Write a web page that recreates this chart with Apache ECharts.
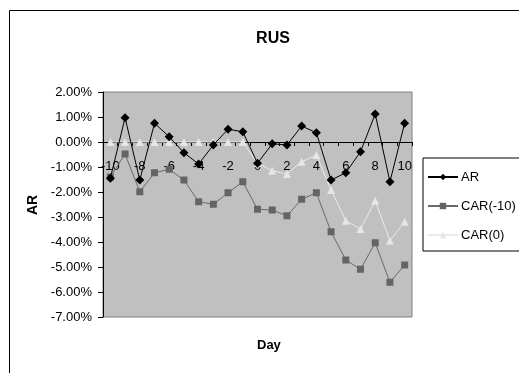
<!DOCTYPE html>
<html>
<head>
<meta charset="utf-8">
<script src="https://cdn.jsdelivr.net/npm/echarts@6/dist/echarts.min.js"></script>
<style>
  html, body { margin: 0; padding: 0; background: #ffffff; }
  #chart { width: 519px; height: 373px; }
</style>
</head>
<body>
<div id="chart"></div>
<script>
// Event days
const days = [-10, -9, -8, -7, -6, -5, -4, -3, -2, -1, 0, 1, 2, 3, 4, 5, 6, 7, 8, 9, 10];

// Abnormal returns (%)
const ar = [-1.45, 0.97, -1.52, 0.75, 0.21, -0.43, -0.88, -0.12, 0.51, 0.41,
            -0.85, -0.07, -0.12, 0.64, 0.37, -1.52, -1.23, -0.39, 1.12, -1.59, 0.75];

// Cumulative abnormal returns from day -10 (%)
const carMinus10 = [-1.40, -0.48, -1.99, -1.23, -1.09, -1.52, -2.39, -2.49, -2.03, -1.59,
                    -2.69, -2.72, -2.95, -2.29, -2.03, -3.59, -4.72, -5.09, -4.03, -5.61, -4.92];

// Cumulative abnormal returns from day 0 (%)
const carZero = [0, 0, 0, 0, 0, 0, 0, 0, 0, 0,
                 -0.85, -1.15, -1.28, -0.79, -0.52, -1.92, -3.15, -3.48, -2.35, -3.95, -3.19];

const FONT = '"Liberation Sans", Arial, sans-serif';

// value-axis range; the day axis is drawn on the 0% line
const Y_MIN = -7, Y_MAX = 2;
const GRID = { left: 103, top: 92, right: 107, bottom: 56 };
const plotHeight = 373 - GRID.top - GRID.bottom;
const zeroOffset = -plotHeight * (0 - Y_MIN) / (Y_MAX - Y_MIN);

const chart = echarts.init(document.getElementById('chart'), null, { renderer: 'canvas' });

chart.setOption({
  animation: false,
  backgroundColor: '#ffffff',
  textStyle: { fontFamily: FONT },
  title: {
    text: 'RUS',
    left: 268,
    top: 26,
    textAlign: 'center',
    textStyle: { fontFamily: FONT, fontSize: 16, fontWeight: 'bold', color: '#000' }
  },
  graphic: [
    {
      type: 'rect',
      shape: { x: 9.5, y: 10.5, width: 540, height: 400 },
      style: { fill: 'none', stroke: '#000', lineWidth: 1 },
      silent: true,
      z: -10
    },
    {
      type: 'text',
      left: 257,
      top: 339,
      style: { text: 'Day', font: 'bold 13px ' + FONT, fill: '#000', textAlign: 'center' }
    },
    {
      type: 'text',
      x: 33,
      y: 205,
      rotation: Math.PI / 2,
      style: { text: 'AR', font: 'bold 14px ' + FONT, fill: '#000', align: 'center', verticalAlign: 'middle' }
    }
  ],
  legend: {
    orient: 'vertical',
    left: 423,
    top: 158,
    padding: [11, 6, 8, 4],
    itemGap: 13,
    itemWidth: 30,
    itemHeight: 8,
    borderColor: '#000',
    borderWidth: 1,
    backgroundColor: '#fff',
    textStyle: { fontFamily: FONT, fontSize: 13, color: '#000', lineHeight: 16, padding: [0, 0, 0, -2] },
    data: ['AR', 'CAR(-10)', 'CAR(0)']
  },
  grid: {
    left: GRID.left,
    top: GRID.top,
    right: GRID.right,
    bottom: GRID.bottom,
    show: true,
    backgroundColor: '#c0c0c0',
    borderColor: '#808080',
    borderWidth: 1
  },
  xAxis: {
    type: 'category',
    data: days,
    boundaryGap: true,
    position: 'bottom',
    offset: zeroOffset,
    axisLine: { onZero: false, lineStyle: { color: '#000', width: 1 } },
    axisTick: { show: true, interval: 0, length: 4, inside: false, lineStyle: { color: '#000' } },
    axisLabel: { interval: 1, margin: 18, fontFamily: FONT, fontSize: 13, color: '#000' },
    splitLine: { show: false }
  },
  yAxis: {
    type: 'value',
    min: Y_MIN,
    max: Y_MAX,
    interval: 1,
    axisLine: { show: true, lineStyle: { color: '#000', width: 1 } },
    axisTick: { show: true, length: 5, lineStyle: { color: '#000' } },
    axisLabel: {
      margin: 11,
      fontFamily: FONT,
      fontSize: 13,
      color: '#000',
      formatter: v => v.toFixed(2) + '%'
    },
    splitLine: { show: false }
  },
  series: [
    {
      name: 'AR',
      type: 'line',
      data: ar,
      symbol: 'diamond',
      symbolSize: 9,
      lineStyle: { color: '#000', width: 1 },
      itemStyle: { color: '#000' },
      z: 3
    },
    {
      name: 'CAR(-10)',
      type: 'line',
      data: carMinus10,
      symbol: 'rect',
      symbolSize: 7,
      lineStyle: { color: '#6a6a6a', width: 1 },
      itemStyle: { color: '#646464' },
      z: 2
    },
    {
      name: 'CAR(0)',
      type: 'line',
      data: carZero,
      symbol: 'triangle',
      symbolSize: 8,
      lineStyle: { color: '#ebebeb', width: 1 },
      itemStyle: { color: '#e6e6e6' },
      z: 2
    }
  ]
});
</script>
</body>
</html>
